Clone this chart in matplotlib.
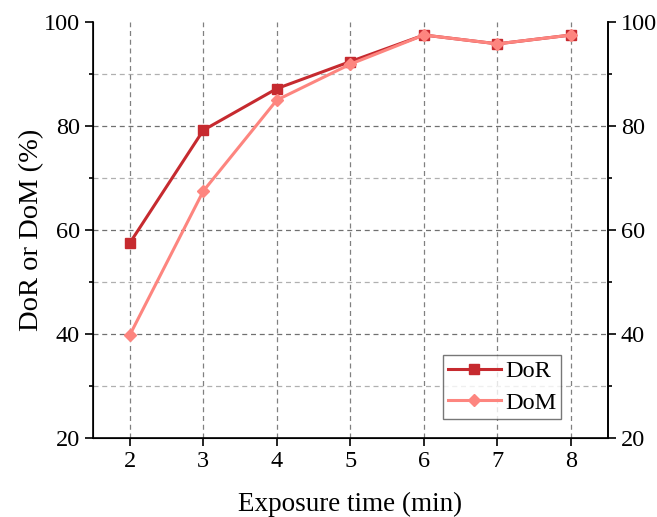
import matplotlib.pyplot as plt
from matplotlib.ticker import MultipleLocator

plt.rcParams['font.family'] = ['Liberation Serif', 'DejaVu Serif']

exposure = [2, 3, 4, 5, 6, 7, 8]
dor = [57.5, 79.2, 87.2, 92.4, 97.5, 95.8, 97.5]
dom = [39.8, 67.5, 85.0, 91.9, 97.5, 95.8, 97.5]

dor_color = '#c62a2f'
dom_color = '#fd857f'

fig = plt.figure(figsize=(6.57, 5.17), dpi=100)
ax = fig.add_axes([0.1416, 0.1528, 0.7835, 0.8046])

# grid: major y darker, minor y lighter, vertical at each x
for v in [30, 50, 70, 90]:
    ax.axhline(v, color='#b0b0b0', ls=(0, (4, 3)), lw=0.9, zorder=0)
for v in [40, 60, 80]:
    ax.axhline(v, color='#707070', ls=(0, (4, 3)), lw=0.9, zorder=0)
for x in exposure:
    ax.axvline(x, color='#808080', ls=(0, (4, 3)), lw=0.9, zorder=0)

ax.plot(exposure, dor, color=dor_color, lw=2.2, marker='s', ms=6.5, label='DoR', zorder=3)
ax.plot(exposure, dom, color=dom_color, lw=2.2, marker='D', ms=6, label='DoM', zorder=4)

ax.set_xlim(1.5, 8.5)
ax.set_ylim(20, 100)
ax.yaxis.set_major_locator(MultipleLocator(20))
ax.yaxis.set_minor_locator(MultipleLocator(10))
ax.set_xticks(exposure)
ax.spines['top'].set_visible(False)
for s in ['left', 'bottom', 'right']:
    ax.spines[s].set_linewidth(1.2)
ax.tick_params(axis='both', which='major', direction='out', length=6, width=1.2, labelsize=17.5)
ax.tick_params(axis='y', which='minor', direction='out', length=3, width=1.2)

ax2 = ax.twinx()
ax2.set_ylim(20, 100)
ax2.yaxis.set_major_locator(MultipleLocator(20))
ax2.yaxis.set_minor_locator(MultipleLocator(10))
ax2.spines['top'].set_visible(False)
ax2.spines['right'].set_linewidth(1.2)
ax2.tick_params(axis='y', which='major', direction='out', length=6, width=1.2, labelsize=17.5)
ax2.tick_params(axis='y', which='minor', direction='out', length=3, width=1.2)

ax.set_xlabel('Exposure time (min)', fontsize=19.5, labelpad=14)
ax.set_ylabel('DoR or DoM (%)', fontsize=20.5, labelpad=0)

ax.legend(loc='lower right', bbox_to_anchor=(0.909, 0.046), fontsize=17.5, frameon=True,
          fancybox=False, edgecolor='#555555', handlelength=2.2, borderpad=0.2,
          labelspacing=0.4, handletextpad=0.15, borderaxespad=0)

fig.savefig('out.png', dpi=100)
